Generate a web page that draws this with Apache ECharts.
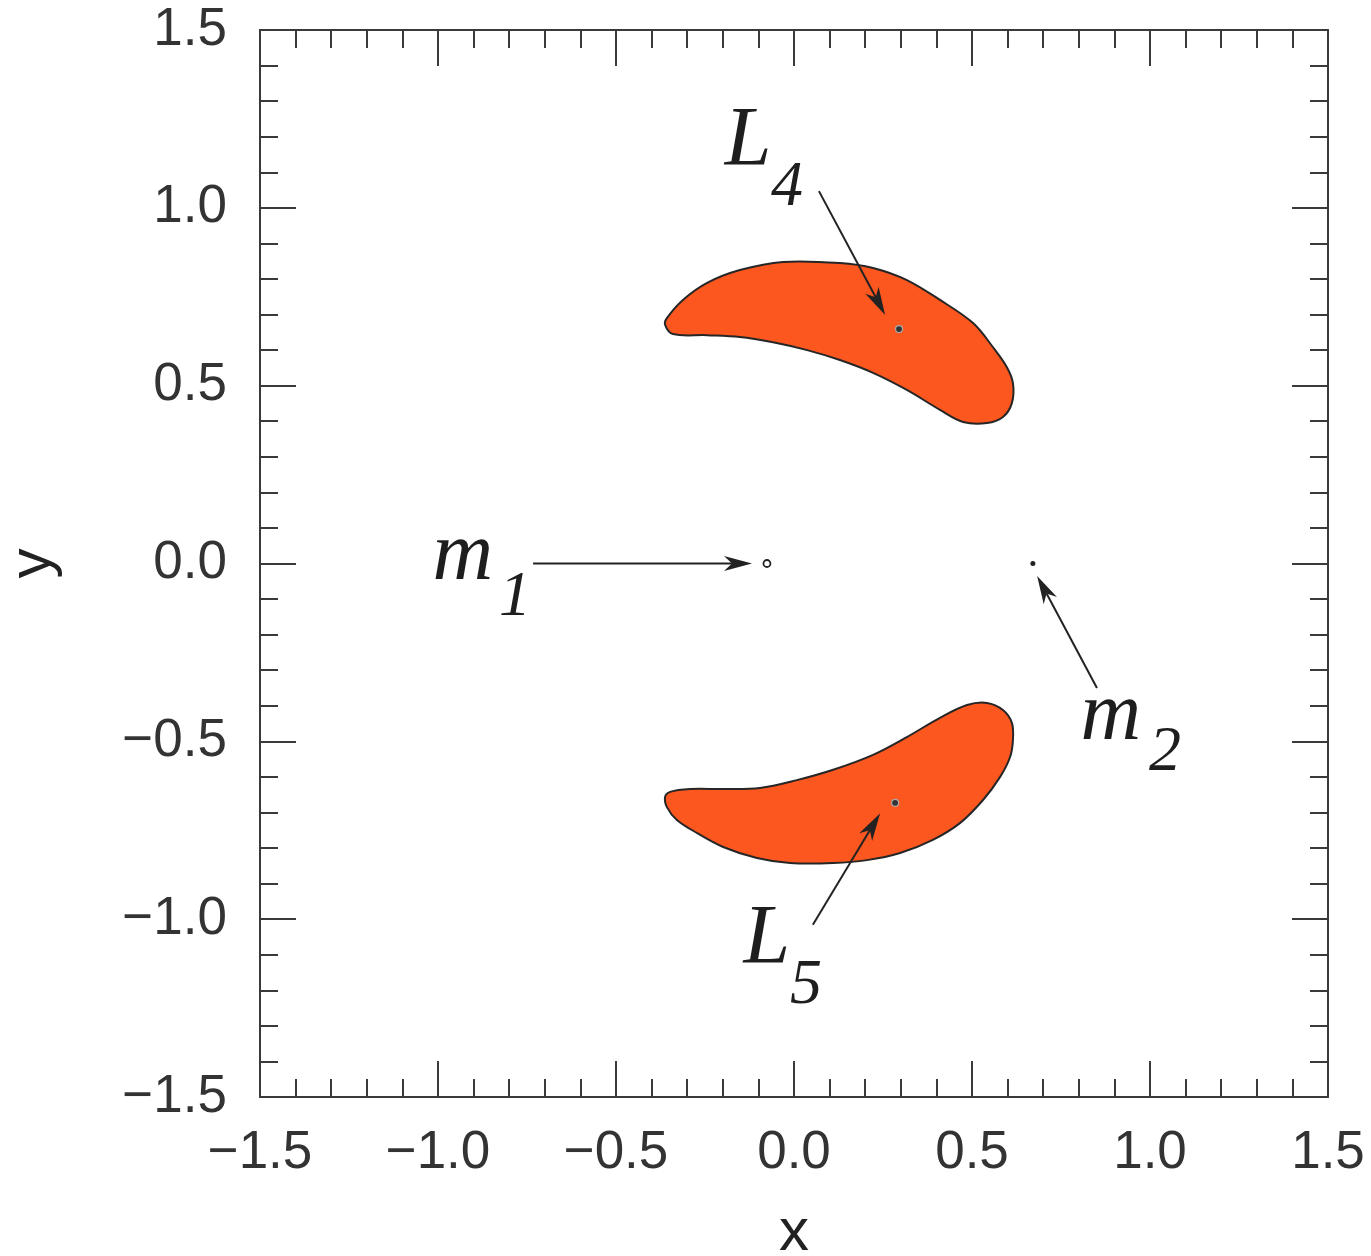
<!DOCTYPE html>
<html><head><meta charset="utf-8">
<script src="https://cdn.jsdelivr.net/npm/echarts@6/dist/echarts.min.js"></script>
<style>html,body{margin:0;padding:0;background:#fff}#c{width:1371px;height:1256px}</style>
</head><body><div id="c"></div>
<script>
// Stability region around L4 (outline, data coords)
const l4X = [-0.362,-0.357,-0.312,-0.244,-0.152,-0.031,0.129,0.222,0.317,0.410,0.503,0.559,0.598,0.615,0.612,0.587,0.542,0.475,0.410,0.317,0.222,0.129,0.037,-0.059,-0.152,-0.244,-0.340];
const l4Y = [0.671,0.690,0.741,0.789,0.825,0.848,0.845,0.831,0.797,0.741,0.676,0.608,0.552,0.507,0.451,0.412,0.395,0.398,0.432,0.488,0.536,0.572,0.600,0.622,0.637,0.642,0.645];
// Stability region around L5
const l5X = [-0.362,-0.348,-0.292,-0.199,-0.096,0.008,0.110,0.222,0.317,0.410,0.486,0.542,0.587,0.612,0.615,0.607,0.579,0.531,0.466,0.390,0.298,0.205,0.110,-0.011,-0.104,-0.199,-0.272,-0.329,-0.357];
const l5Y = [-0.656,-0.642,-0.634,-0.634,-0.631,-0.609,-0.580,-0.538,-0.488,-0.434,-0.398,-0.392,-0.412,-0.448,-0.496,-0.544,-0.600,-0.665,-0.730,-0.777,-0.814,-0.834,-0.842,-0.842,-0.828,-0.797,-0.758,-0.721,-0.685];
// Points: L4, L5, m1, m2
const pointNames = ['L4','L5','m1','m2'];
const pointX = [0.295, 0.284, -0.076, 0.671];
const pointY = [0.659, -0.673, 0.0, 0.0];
// Arrows
const arrowFromX = [0.070, -0.733, 0.851, 0.053];
const arrowFromY = [1.047, 0.0, -0.350, -1.016];
const arrowToX   = [0.256, -0.118, 0.683, 0.242];
const arrowToY   = [0.699, 0.0, -0.035, -0.702];
// Annotation labels (main letter and subscript)
const labelText = ['L','4','m','1','m','2','L','5'];
const labelX = [-0.129,-0.020,-0.930,-0.784,0.890,1.042,-0.076,0.034];
const labelY = [1.182,1.056,0.018,-0.097,-0.432,-0.533,-1.062,-1.188];
const labelIsSub = [false,true,false,true,false,true,false,true];
// Axes
const xMin = -1.5, xMax = 1.5, yMin = -1.5, yMax = 1.5, tickStep = 0.5;

const fmt = v => v.toFixed(1).replace('-', '\u2212');

function axisCommon(showLabel) {
  return {
    type: 'value', min: xMin, max: xMax, interval: tickStep,
    axisLine: { show: true, onZero: false, lineStyle: { color: '#3a3a3a', width: 2 } },
    axisTick: { show: true, inside: true, length: 36, lineStyle: { color: '#3a3a3a', width: 2 } },
    minorTick: { show: true, splitNumber: 5, length: 18, lineStyle: { color: '#3a3a3a', width: 2 } },
    splitLine: { show: false }, minorSplitLine: { show: false },
    axisLabel: { show: showLabel, formatter: fmt, fontFamily: 'Liberation Sans', fontSize: 53, color: '#333', showMinLabel: true, showMaxLabel: true }
  };
}

const chart = echarts.init(document.getElementById('c'), null, { renderer: 'canvas' });
const xa0 = Object.assign(axisCommon(true), { position: 'bottom', name: 'x', nameLocation: 'middle', nameGap: 106, nameTextStyle: { fontFamily: 'Liberation Sans', fontSize: 60, color: '#222' } });
xa0.axisLabel.margin = 30;
const xa1 = Object.assign(axisCommon(false), { position: 'top' });
const ya0 = Object.assign(axisCommon(true), { min: yMin, max: yMax, position: 'left', name: 'y', nameLocation: 'middle', nameGap: 197, nameRotate: 90, nameTextStyle: { fontFamily: 'Liberation Sans', fontSize: 60, color: '#222' } });
ya0.axisLabel.margin = 33;
const ya1 = Object.assign(axisCommon(false), { min: yMin, max: yMax, position: 'right' });

const regions = [l4X.map((x, i) => [x, l4Y[i]]), l5X.map((x, i) => [x, l5Y[i]])];

chart.setOption({
  animation: false,
  grid: { left: 260, top: 30, right: 43, bottom: 159, containLabel: false, outerBoundsMode: 'none' },
  xAxis: [xa0, xa1],
  yAxis: [ya0, ya1],
  series: [
    {
      type: 'custom', coordinateSystem: 'cartesian2d', clip: false,
      data: [[0, 0], [1, 0]],
      renderItem: (params, api) => {
        const pts = regions[params.dataIndex].map(p => api.coord(p));
        return { type: 'polygon', shape: { points: pts, smooth: 0.35 }, style: { fill: '#FD5720', stroke: '#262626', lineWidth: 2 } };
      }
    },
    {
      type: 'custom', coordinateSystem: 'cartesian2d', clip: false,
      data: pointX.map((x, i) => [x, pointY[i]]),
      renderItem: (params, api) => {
        const p = api.coord([api.value(0), api.value(1)]);
        const n = pointNames[params.dataIndex];
        if (n === 'm1') return { type: 'circle', shape: { cx: p[0], cy: p[1], r: 3.5 }, style: { fill: '#fff', stroke: '#222', lineWidth: 1.8 } };
        if (n === 'm2') return { type: 'circle', shape: { cx: p[0], cy: p[1], r: 2.5 }, style: { fill: '#222' } };
        return { type: 'circle', shape: { cx: p[0], cy: p[1], r: 3.5 }, style: { fill: '#333', stroke: '#aaa', lineWidth: 1.2 } };
      }
    },
    {
      type: 'custom', coordinateSystem: 'cartesian2d', clip: false,
      data: arrowFromX.map((x, i) => [x, arrowFromY[i], arrowToX[i], arrowToY[i]]),
      renderItem: (params, api) => {
        const a = api.coord([api.value(0), api.value(1)]);
        const b = api.coord([api.value(2), api.value(3)]);
        const dx = b[0] - a[0], dy = b[1] - a[1];
        const L = Math.hypot(dx, dy);
        const ux = dx / L, uy = dy / L, px = -uy, py = ux;
        const hl = 28, hw = 7.5, nt = 20;
        const head = [
          [b[0], b[1]],
          [b[0] - ux * hl + px * hw, b[1] - uy * hl + py * hw],
          [b[0] - ux * nt, b[1] - uy * nt],
          [b[0] - ux * hl - px * hw, b[1] - uy * hl - py * hw]
        ];
        return {
          type: 'group', children: [
            { type: 'line', shape: { x1: a[0], y1: a[1], x2: b[0] - ux * nt, y2: b[1] - uy * nt }, style: { stroke: '#222', lineWidth: 2 } },
            { type: 'polygon', shape: { points: head }, style: { fill: '#222' } }
          ]
        };
      }
    },
    {
      type: 'custom', coordinateSystem: 'cartesian2d', clip: false,
      data: labelX.map((x, i) => [x, labelY[i]]),
      renderItem: (params, api) => {
        const p = api.coord([api.value(0), api.value(1)]);
        const sub = labelIsSub[params.dataIndex];
        return {
          type: 'text', x: p[0], y: p[1],
          style: {
            text: labelText[params.dataIndex], fontFamily: 'Liberation Serif', fontStyle: 'italic',
            fontSize: sub ? 64 : 84, fill: '#1e1e1e', align: 'center', verticalAlign: 'middle'
          }
        };
      }
    }
  ]
});
</script>
</body></html>
